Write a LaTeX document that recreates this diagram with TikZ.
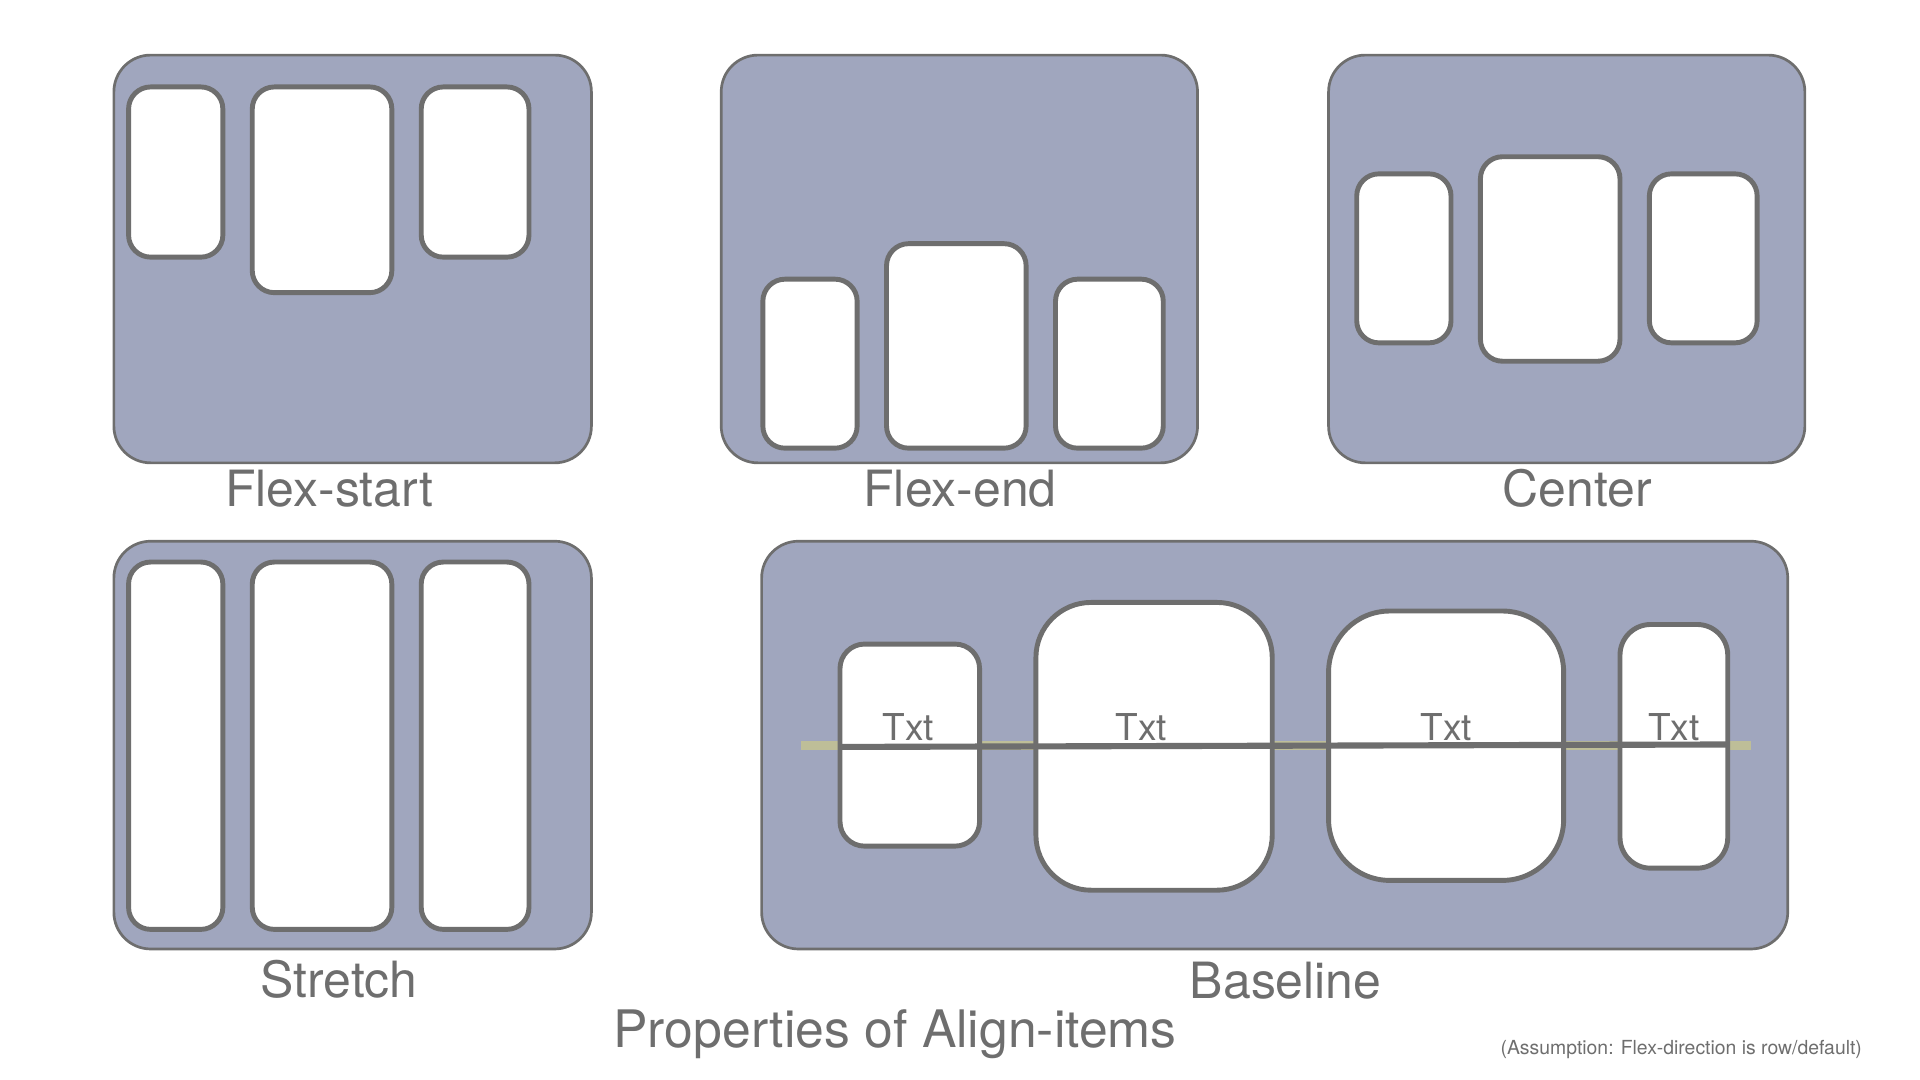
\documentclass[tikz,border=0pt]{standalone}
\usepackage{fontspec}
\setmainfont{TeX Gyre Heros}
\definecolor{panel}{HTML}{A0A6BE}
\definecolor{edge}{HTML}{6E6E6E}
\definecolor{base}{HTML}{BEBE98}
\begin{document}
\begin{tikzpicture}[x=0.01cm,y=-0.01cm,
  cont/.style={draw=edge,fill=panel,line width=0.22mm,rounded corners=3mm},
  item/.style={draw=edge,fill=white,line width=0.4mm},
  lbl/.style={text=edge,font=\fontsize{11.6}{14}\selectfont},
  txt/.style={text=edge,font=\fontsize{8.6}{10}\selectfont}]
\useasboundingbox (0,0) rectangle (1568,882);
% Flex-start
\draw[cont] (93,45) rectangle (483,378);
\draw[item,rounded corners=1.8mm] (105,71) rectangle (182,210);
\draw[item,rounded corners=1.8mm] (206,71) rectangle (320,239);
\draw[item,rounded corners=1.8mm] (344,71) rectangle (432,210);
\node[lbl] (l1) at (269,399) {Flex-start};
% Flex-end
\draw[cont] (589,45) rectangle (978,378);
\draw[item,rounded corners=1.8mm] (623,228) rectangle (700,366);
\draw[item,rounded corners=1.8mm] (724,199) rectangle (838,366);
\draw[item,rounded corners=1.8mm] (862,228) rectangle (950,366);
\node[lbl] (l2) at (784,399) {Flex-end};
% Center
\draw[cont] (1085,45) rectangle (1474,378);
\draw[item,rounded corners=1.8mm] (1108,142) rectangle (1185,280);
\draw[item,rounded corners=1.8mm] (1209,128) rectangle (1323,295);
\draw[item,rounded corners=1.8mm] (1347,142) rectangle (1435,280);
\node[lbl] (l3) at (1288,399) {Center};
% Stretch
\draw[cont] (93,442) rectangle (483,775);
\draw[item,rounded corners=1.8mm] (105,459) rectangle (182,759);
\draw[item,rounded corners=1.8mm] (206,459) rectangle (320,759);
\draw[item,rounded corners=1.8mm] (344,459) rectangle (432,759);
\node[lbl] (l4) at (277,800) {Stretch};
% Baseline
\draw[cont] (622,442) rectangle (1460,775);
\draw[base,line width=0.75mm] (654,609) -- (1430,609);
\draw[item,rounded corners=2mm] (686,526) rectangle (800,691);
\draw[item,rounded corners=4.5mm] (846,492) rectangle (1039,727);
\draw[item,rounded corners=5mm] (1085,499) rectangle (1277,719);
\draw[item,rounded corners=2.5mm] (1323,510) rectangle (1411,709);
\coordinate (bl) at (686,610);
\coordinate (br) at (1411,608);
\draw[edge,line width=0.5mm] (bl) -- (br);
\node[txt] (t1) at (742,594) {Txt};
\node[txt] (t2) at (932,594) {Txt};
\node[txt] (t3) at (1181,594) {Txt};
\node[txt] (t4) at (1367,594) {Txt};
\node[lbl] (l5) at (1050,801) {Baseline};
\node[lbl,font=\fontsize{12}{14}\selectfont] (title) at (731,845) {Properties of Align-items};
\node[text=edge,font=\fontsize{4.5}{6}\selectfont,anchor=east] (note) at (1533,857) {(Assumption: Flex-direction is row/default)};
\end{tikzpicture}
\end{document}
